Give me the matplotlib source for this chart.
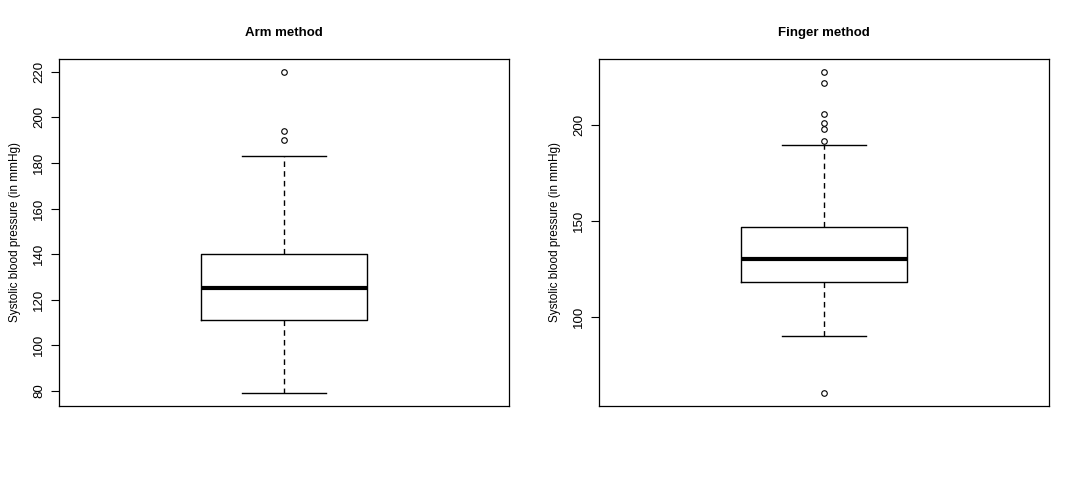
import matplotlib
matplotlib.use("Agg")
import matplotlib.pyplot as plt

plt.rcParams['font.family'] = ['Liberation Sans', 'DejaVu Sans']

titles = ["Arm method", "Finger method"]
ylabel = "Systolic blood pressure (in mmHg)"

# five-number summaries: lower whisker, Q1, median, Q3, upper whisker
arm_stats = [79, 111, 125, 140, 183]
arm_outliers = [220, 194, 190]
finger_stats = [90, 118, 130, 147, 190]
finger_outliers = [228, 222, 206, 201, 198, 192, 60]

arm_ticks = [80, 100, 120, 140, 160, 180, 200, 220]
finger_ticks = [100, 150, 200]

fig = plt.figure(figsize=(10.8, 4.8), dpi=100)
positions = [[59/1080, 1-406/480, 450/1080, 347/480],
             [599/1080, 1-406/480, 450/1080, 347/480]]

for pos, title, st, outl, ticks in zip(positions, titles,
                                       [arm_stats, finger_stats],
                                       [arm_outliers, finger_outliers],
                                       [arm_ticks, finger_ticks]):
    ax = fig.add_axes(pos)
    bxp = [dict(whislo=st[0], q1=st[1], med=st[2], q3=st[3], whishi=st[4],
                fliers=outl, label='')]
    ax.bxp(bxp, positions=[1], widths=0.37, showfliers=True,
           boxprops=dict(color='black', linewidth=1),
           medianprops=dict(color='black', linewidth=3, solid_capstyle='butt'),
           whiskerprops=dict(color='black', linewidth=1, linestyle=(0, (4, 3))),
           capprops=dict(color='black', linewidth=1),
           capwidths=0.185,
           flierprops=dict(marker='o', markerfacecolor='none', markeredgecolor='black',
                           markersize=4, markeredgewidth=0.8, linestyle='none'))
    allv = [st[0], st[4]] + outl
    lo, hi = min(allv), max(allv)
    ext = (hi - lo) * 0.04
    ax.set_ylim(lo - ext, hi + ext)
    ax.set_xlim(0.5, 1.5)
    ax.set_xticks([])
    ax.set_yticks(ticks)
    ax.set_yticklabels([str(t) for t in ticks], rotation=90, va='center', fontsize=9.5)
    ax.tick_params(axis='y', length=6, width=0.8, pad=4, colors='black')
    for s in ax.spines.values():
        s.set_linewidth(0.9)
        s.set_color('black')
    ax.set_title(title, fontsize=9.5, fontweight='bold', pad=16.5)
    ax.set_ylabel(ylabel, fontsize=8.5, labelpad=9)

fig.savefig("out.png", dpi=100, facecolor='white')
